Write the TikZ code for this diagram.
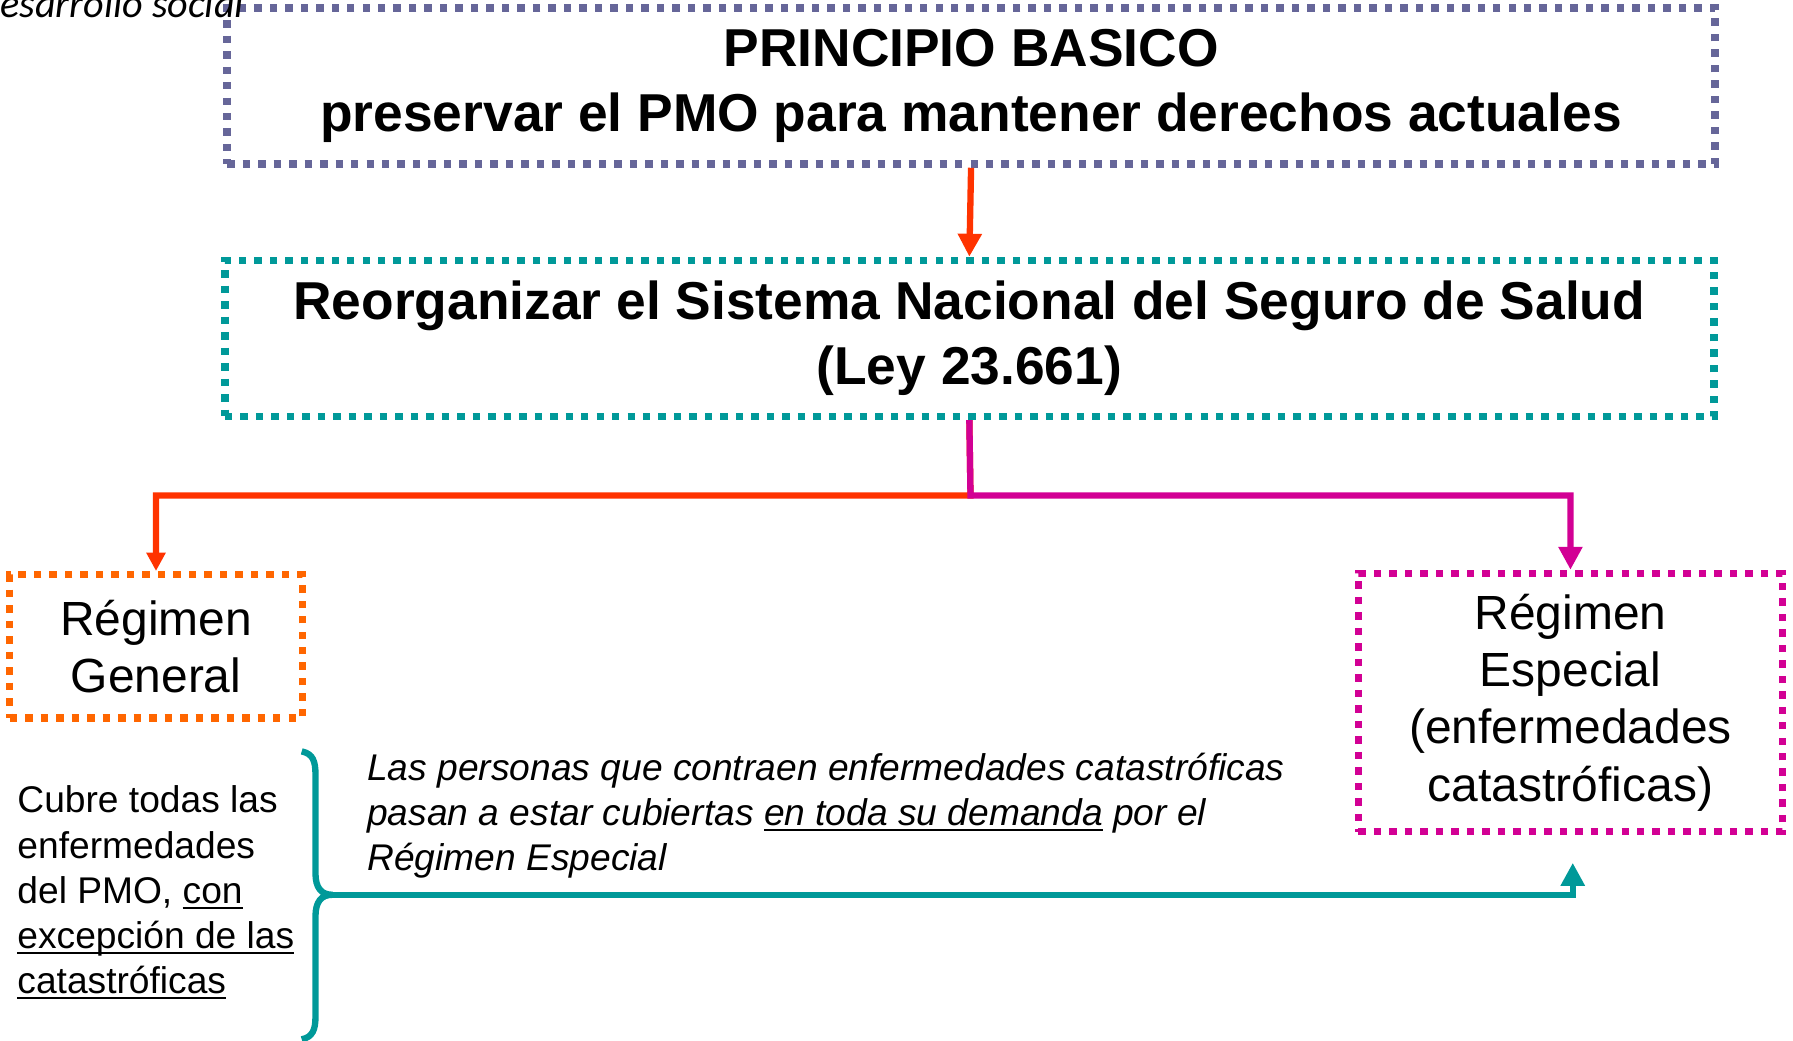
\documentclass[tikz,border=0pt]{standalone}
\usepackage{fontspec}
\setmainfont{Liberation Sans}
\newfontfamily\calfont{Carlito}
\usetikzlibrary{arrows.meta,positioning,calc}
\definecolor{boxgrey}{HTML}{666699}
\definecolor{boxteal}{HTML}{009999}
\definecolor{arrred}{HTML}{FF3300}
\definecolor{boxorange}{HTML}{FF6600}
\definecolor{boxpink}{HTML}{D20094}
\newcommand{\undl}[1]{\setbox0\hbox{#1}\rlap{\rule[-5pt]{\wd0}{2pt}}\box0\relax}

\begin{document}
\begin{tikzpicture}[x=1pt, y=-1pt,
      dotbox/.style={draw=#1, line width=6.5pt, dash pattern=on 6.5pt off 7pt, inner sep=0pt, align=center},
      bigtext/.style={font=\fontsize{46.5}{57}\selectfont\bfseries},
      midtext/.style={font=\fontsize{41.8}{50}\selectfont},
      smalltext/.style={font=\fontsize{32.4}{39.3}\selectfont, inner sep=0pt, align=left, anchor=north west},
      link/.style={line width=5.5pt, -{Triangle[width=20pt,length=20pt]}}]
      \useasboundingbox (0,0) rectangle (1563,907);
      \node[dotbox=boxgrey, bigtext, minimum width=1297pt, minimum height=136pt] at (846.5,75) (basico)
        {PRINCIPIO BASICO\\ preservar el PMO para mantener derechos actuales};
      \node[dotbox=boxteal, bigtext, minimum width=1298pt, minimum height=136pt] at (845,295) (reorg)
        {Reorganizar el Sistema Nacional del Seguro de Salud\\ (Ley 23.661)};
      \node[dotbox=boxorange, midtext, minimum width=255pt, minimum height=125pt] at (136,563.5) (general)
        {Régimen\\ General};
      \node[dotbox=boxpink, midtext, minimum width=370pt, minimum height=225pt] at (1369,612.4) (especial)
        {Régimen\\ Especial\\ (enfermedades\\ catastróficas)};
      \node[smalltext] at (15,685) (cubre)
        {Cubre todas las\\ enfermedades\\ del PMO, \undl{con}\\ \undl{excepción de las}\\ \undl{catastróficas}};
      \node[smalltext, font=\fontsize{32.4}{39.5}\selectfont\itshape] at (320,656) (personas)
        {Las personas que contraen enfermedades catastróficas\\ pasan a estar cubiertas \undl{en toda su demanda} por el\\ Régimen Especial};
      \node[font=\calfont\itshape\fontsize{35}{40}\selectfont, anchor=base east, inner sep=0pt] at (213,15) (frag)
        {esarrollo social};
      \coordinate (split) at (846,432);
      \coordinate (bracetip) at (290,780);
      \draw[arrred, link] (basico.south) -- (reorg.north);
      \draw[arrred, link, -{Triangle[width=16pt,length=16pt]}] (reorg.south) -- (split) -| (general.north);
      \draw[boxpink, link] (reorg.south) -- (split) -| (especial.north);
      \draw[boxteal, line width=5.5pt] (263,655) .. controls (273,657) and (275,664) .. (275,675) -- (275,761)
        .. controls (275,774) and (280,780) .. (bracetip) .. controls (280,780) and (275,786) .. (275,799)
        -- (275,886) .. controls (275,897) and (273,904) .. (263,906);
      \draw[boxteal, link] (bracetip) -| ([xshift=2pt,yshift=-24pt]especial.south);
\end{tikzpicture}
\end{document}
